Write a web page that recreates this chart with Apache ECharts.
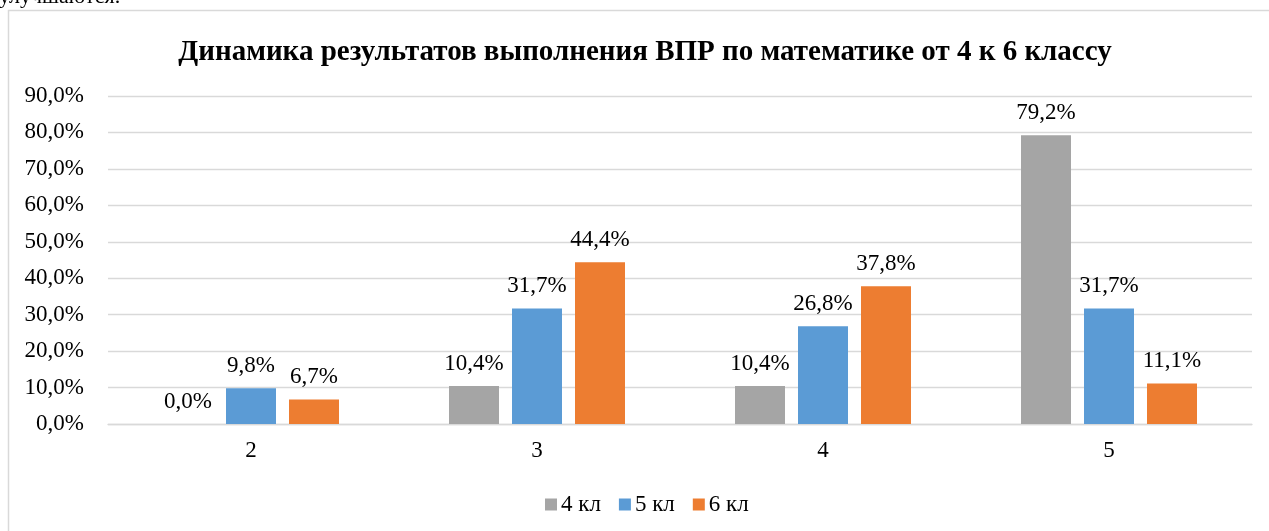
<!DOCTYPE html>
<html>
<head>
<meta charset="utf-8">
<script src="https://cdn.jsdelivr.net/npm/echarts@6/dist/echarts.min.js"></script>
<style>
html, body { margin: 0; padding: 0; background: #fff; }
#chart { width: 1269px; height: 531px; }
</style>
</head>
<body>
<div id="chart"></div>
<script>
// оценки (категории по оси X)
const grades = ['2', '3', '4', '5'];
const seriesNames = ['4 кл', '5 кл', '6 кл'];
const class4 = [0.0, 10.4, 10.4, 79.2];
const class5 = [9.8, 31.7, 26.8, 31.7];
const class6 = [6.7, 44.4, 37.8, 11.1];
const colors = ['#a5a5a5', '#5b9bd5', '#ed7d31'];

const font = "'Liberation Serif'";
const fmt = v => v.toFixed(1).replace('.', ',') + '%';

function makeSeries(name, data, color) {
	return {
		name: name,
		type: 'bar',
		data: data,
		barWidth: 50,
		barGap: '26%',
		itemStyle: { color: color },
		label: {
			show: true,
			position: 'top',
			distance: 11,
			color: '#000',
			fontFamily: font,
			fontSize: 23,
			formatter: p => fmt(p.value)
		}
	};
}

let myChart = echarts.init(document.getElementById('chart'));
myChart.setOption({
	animation: false,
	backgroundColor: '#fff',
	graphic: [
		{
			type: 'rect',
			shape: { x: 8.5, y: 10.5, width: 1400, height: 700 },
			style: { fill: 'none', stroke: '#d9d9d9', lineWidth: 1.5 },
			silent: true
		},
		{
			type: 'text',
			left: -1,
			top: -14,
			style: { text: 'улучшаются.', fill: '#000', font: "22px 'Liberation Serif'" }
		}
	],
	title: {
		text: 'Динамика результатов выполнения ВПР по математике от 4 к 6 классу',
		left: 640,
		textAlign: 'center',
		top: 33,
		textStyle: { fontFamily: font, fontSize: 29, fontWeight: 'bold', color: '#000' }
	},
	legend: {
		data: seriesNames,
		left: 540,
		top: 488,
		itemWidth: 12,
		itemHeight: 12,
		itemGap: 18,
		icon: 'rect',
		textStyle: { fontFamily: font, fontSize: 23, color: '#000', padding: [0, 0, 0, -1] }
	},
	grid: { left: 108, right: 17, top: 96, bottom: 107, containLabel: false },
	xAxis: {
		type: 'category',
		data: grades,
		axisLine: { lineStyle: { color: '#d9d9d9', width: 1.3 } },
		axisTick: { show: false },
		axisLabel: { color: '#000', fontFamily: font, fontSize: 23, margin: 15 }
	},
	yAxis: {
		type: 'value',
		min: 0,
		max: 90,
		interval: 10,
		axisLine: { show: false },
		axisTick: { show: false },
		splitLine: { lineStyle: { color: '#d9d9d9', width: 1.3 } },
		axisLabel: { color: '#000', fontFamily: font, fontSize: 23, margin: 24, formatter: v => fmt(v) }
	},
	series: [
		makeSeries(seriesNames[0], class4, colors[0]),
		makeSeries(seriesNames[1], class5, colors[1]),
		makeSeries(seriesNames[2], class6, colors[2])
	]
});
</script>
</body>
</html>
